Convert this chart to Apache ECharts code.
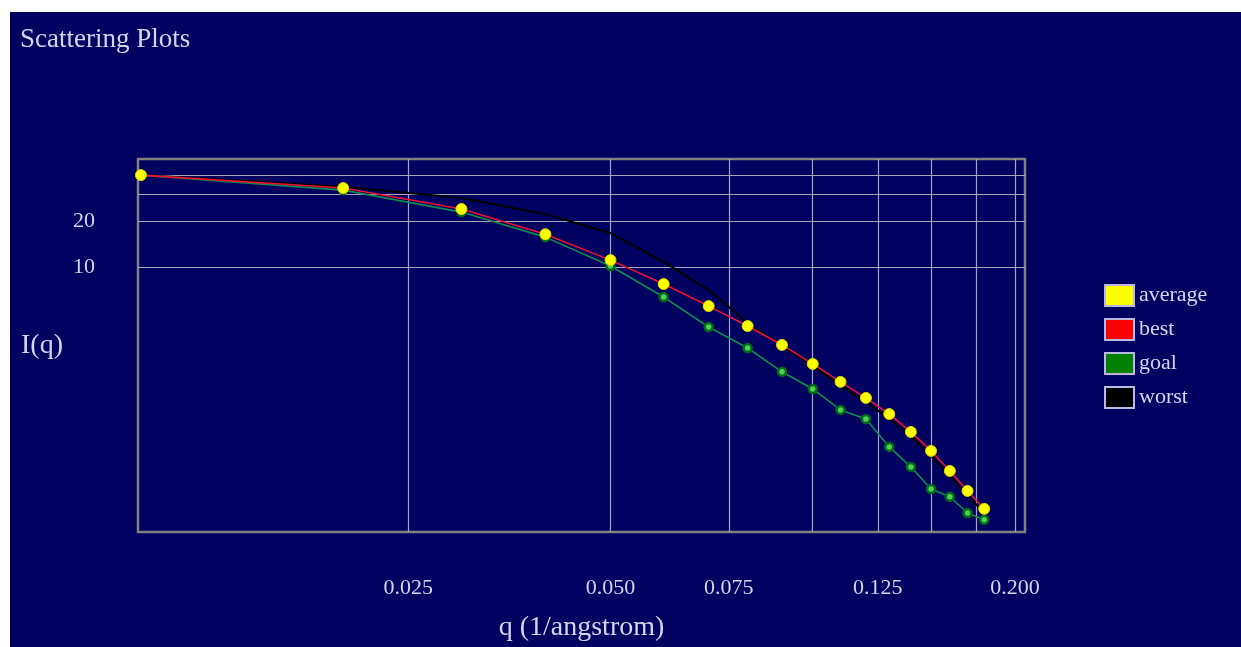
<!DOCTYPE html>
<html>
<head>
<meta charset="utf-8">
<script src="https://cdn.jsdelivr.net/npm/echarts@6/dist/echarts.min.js"></script>
<style>
  html, body { margin: 0; padding: 0; background: #ffffff; }
  #chart { position: absolute; left: 10px; top: 12px; width: 1231px; height: 635px; }
</style>
</head>
<body>
<div id="chart"></div>
<script>
// ---- data ----
const q = [0.01, 0.02, 0.03, 0.04, 0.05, 0.06, 0.07, 0.08, 0.09, 0.10, 0.11, 0.12, 0.13, 0.14, 0.15, 0.16, 0.17, 0.18];
const average = [40, 32.9, 24.0, 16.4, 11.1, 7.74, 5.55, 4.11, 3.09, 2.32, 1.77, 1.39, 1.09, 0.832, 0.625, 0.462, 0.342, 0.261];
const best    = [40, 32.9, 24.0, 16.4, 11.1, 7.74, 5.55, 4.11, 3.09, 2.32, 1.77, 1.39, 1.09, 0.832, 0.625, 0.462, 0.342, 0.261];
const goal    = [40, 31.9, 22.9, 15.7, 10.15, 6.36, 4.05, 2.95, 2.06, 1.59, 1.16, 1.01, 0.664, 0.491, 0.352, 0.313, 0.245, 0.221];
const worst   = [40, 33.6, 28.3, 22.2, 16.7, 10.8, 7.07, 4.30, 3.05, 2.25, 1.68, 1.30, 1.02, 0.78, 0.58, 0.43, 0.32, 0.245];
const xGridValues  = [0.025, 0.05, 0.075, 0.1, 0.125, 0.15, 0.175, 0.2];
const xLabelValues = [0.025, 0.05, 0.075, 0.125, 0.2];
const yGridValues  = [10, 20, 30, 40];
const yLabelValues = [10, 20];

const pair = (ys) => q.map((x, i) => [x, ys[i]]);

const textColor = '#d4d4ec';
const serif = '"Liberation Serif", "DejaVu Serif", serif';
const chart = echarts.init(document.getElementById('chart'));
chart.setOption({
  backgroundColor: '#000060',
  animation: false,
  textStyle: { fontFamily: serif },
  title: {
    text: 'Scattering Plots',
    left: 5, top: 9,
    textStyle: { color: textColor, fontFamily: serif, fontSize: 27, fontWeight: 'normal' }
  },
  legend: {
    orient: 'vertical',
    left: 1089, top: 267,
    itemWidth: 29, itemHeight: 21, itemGap: 11,
    icon: 'rect',
    itemStyle: { borderColor: '#b8b8e0', borderWidth: 2 },
    textStyle: { color: textColor, fontFamily: serif, fontSize: 22 },
    data: [
      { name: 'average', itemStyle: { color: '#ffff00' } },
      { name: 'best', itemStyle: { color: '#ff0000' } },
      { name: 'goal', itemStyle: { color: '#008000' } },
      { name: 'worst', itemStyle: { color: '#000000' } }
    ]
  },
  grid: {
    left: 128, top: 147, width: 887, height: 373,
    show: true, borderColor: '#808080', borderWidth: 2.5, backgroundColor: 'transparent'
  },
  xAxis: {
    type: 'log', logBase: 10, min: 0.0099, max: 0.207,
    name: 'q (1/angstrom)', nameLocation: 'middle', nameGap: 82,
    nameTextStyle: { color: textColor, fontFamily: serif, fontSize: 28 },
    axisLine: { show: false },
    axisTick: { show: false, customValues: xGridValues },
    splitLine: { show: true, lineStyle: { color: '#a4a4b8', width: 1.2 } },
    axisLabel: {
      customValues: xLabelValues, margin: 45,
      color: textColor, fontFamily: serif, fontSize: 22,
      formatter: (v) => Number(v).toFixed(3)
    }
  },
  yAxis: {
    type: 'log', logBase: 10, min: 0.184, max: 51,
    name: 'I(q)', nameLocation: 'middle', nameRotate: 0, nameGap: 75,
    nameTextStyle: { color: textColor, fontFamily: serif, fontSize: 28 },
    axisLine: { show: false },
    axisTick: { show: false, customValues: yGridValues },
    splitLine: { show: true, lineStyle: { color: '#a4a4b8', width: 1.2 } },
    axisLabel: {
      customValues: yLabelValues, margin: 43,
      color: textColor, fontFamily: serif, fontSize: 22,
      formatter: (v) => String(Math.round(v))
    }
  },
  series: [
    {
      name: 'worst', type: 'line', data: pair(worst), z: 2,
      showSymbol: false, symbol: 'none',
      lineStyle: { color: '#000000', width: 2 },
      itemStyle: { color: '#000000' }
    },
    {
      name: 'goal', type: 'line', data: pair(goal), z: 3,
      symbol: 'circle', symbolSize: 8,
      lineStyle: { color: '#0c8c50', width: 1.6 },
      itemStyle: { color: '#50d050', borderColor: '#006a1a', borderWidth: 2.5 }
    },
    {
      name: 'best', type: 'line', data: pair(best), z: 4,
      showSymbol: false, symbol: 'none',
      lineStyle: { color: '#ee1030', width: 1.6 },
      itemStyle: { color: '#ff0000' }
    },
    {
      name: 'average', type: 'scatter', data: pair(average), z: 6,
      symbol: 'circle', symbolSize: 11,
      itemStyle: { color: '#ffff00', opacity: 1, borderColor: '#d8d800', borderWidth: 1 }
    }
  ]
});
</script>
</body>
</html>
